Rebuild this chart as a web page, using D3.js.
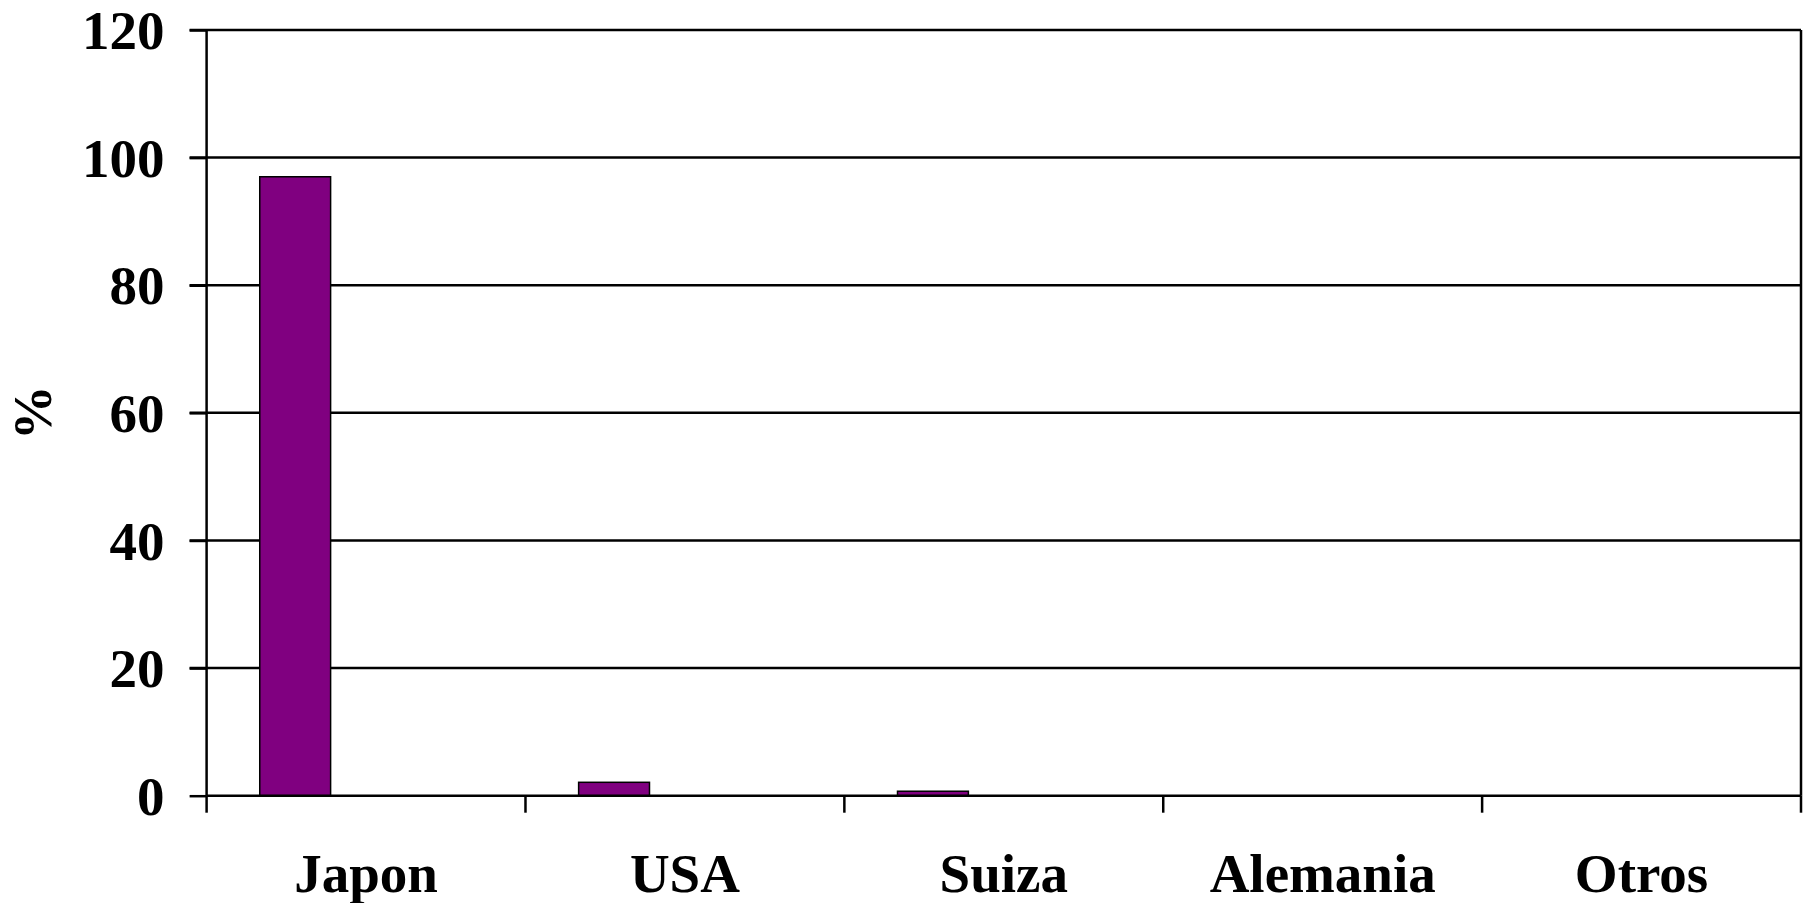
<!DOCTYPE html>
<html>
<head>
<meta charset="utf-8">
<script src="https://cdn.jsdelivr.net/npm/d3@7"></script>
<style>
  html, body { margin: 0; padding: 0; background: #fff; }
  svg text { font-family: "Liberation Serif", "Times New Roman", serif; font-weight: bold; fill: #000; }
</style>
</head>
<body>
<svg id="chart" width="1810" height="903"></svg>
<script>
// Data
const categories = ["Japon", "USA", "Suiza", "Alemania", "Otros"];
const seriesNames = ["s1", "s2", "s3"];
const values = [97, 2.1, 0.7, 0, 0];
const yTicks = [0, 20, 40, 60, 80, 100, 120];
const yLabel = "%";

(function () {
const svg = d3.select("#chart");
const plotLeft = 206.6, plotRight = 1801, plotTop = 30, plotBottom = 795.7;

const x = d3.scaleBand().domain(categories).range([plotLeft, plotRight]).padding(0);
const xs = d3.scaleBand().domain(seriesNames).range([0, x.bandwidth()]).paddingInner(0).paddingOuter(0.75);
const y = d3.scaleLinear().domain([0, 120]).range([plotBottom, plotTop]);

// gridlines (extend to tick start)
svg.append("g").selectAll("line").data(yTicks.filter(d => d > 0)).join("line")
  .attr("x1", plotLeft - 17).attr("x2", plotRight)
  .attr("y1", d => y(d)).attr("y2", d => y(d))
  .attr("stroke", "#000").attr("stroke-width", 2.5);

// bars
svg.append("g").selectAll("rect").data(values).join("rect")
  .attr("x", (d, i) => x(categories[i]) + xs("s1"))
  .attr("width", xs.bandwidth())
  .attr("y", d => y(d))
  .attr("height", d => plotBottom - y(d))
  .attr("fill", "#800080")
  .attr("stroke", "#000").attr("stroke-width", 1.5);

// y axis
const yAxis = d3.axisLeft(y).tickValues(yTicks).tickSize(17).tickPadding(25).tickFormat(d3.format("d"));
const gy = svg.append("g").attr("transform", `translate(${plotLeft},0)`).call(yAxis);
gy.select(".domain").attr("stroke", "#000").attr("stroke-width", 2.5).attr("d", `M0,${plotBottom}V${plotTop}`);
gy.selectAll(".tick line").attr("stroke", "#000").attr("stroke-width", 2.5);
gy.selectAll(".tick text").style("font-size", "55px").attr("dy", "0.34em");

// x axis
const xTickPositions = categories.map(c => x(c)).concat([plotRight]);
const xAxis = d3.axisBottom(x).tickSize(0).tickPadding(0);
const gx = svg.append("g").attr("transform", `translate(0,${plotBottom})`).call(xAxis);
gx.select(".domain").attr("stroke", "#000").attr("stroke-width", 2.5).attr("d", `M${plotLeft},0H${plotRight}`);
gx.selectAll(".tick text").style("font-size", "55px").attr("y", 96).attr("dy", 0);
svg.append("g").selectAll("line").data(xTickPositions).join("line")
  .attr("x1", d => d).attr("x2", d => d)
  .attr("y1", plotBottom).attr("y2", plotBottom + 17)
  .attr("stroke", "#000").attr("stroke-width", 2.5);

// right border
svg.append("line").attr("x1", plotRight).attr("x2", plotRight).attr("y1", plotTop).attr("y2", plotBottom)
  .attr("stroke", "#000").attr("stroke-width", 2.5);

// y label
svg.append("text")
  .attr("transform", `translate(32,${(plotTop + plotBottom) / 2}) rotate(-90)`)
  .attr("text-anchor", "middle").attr("dy", "0.35em")
  .style("font-size", "55px")
  .text(yLabel);
})();
</script>
</body>
</html>
